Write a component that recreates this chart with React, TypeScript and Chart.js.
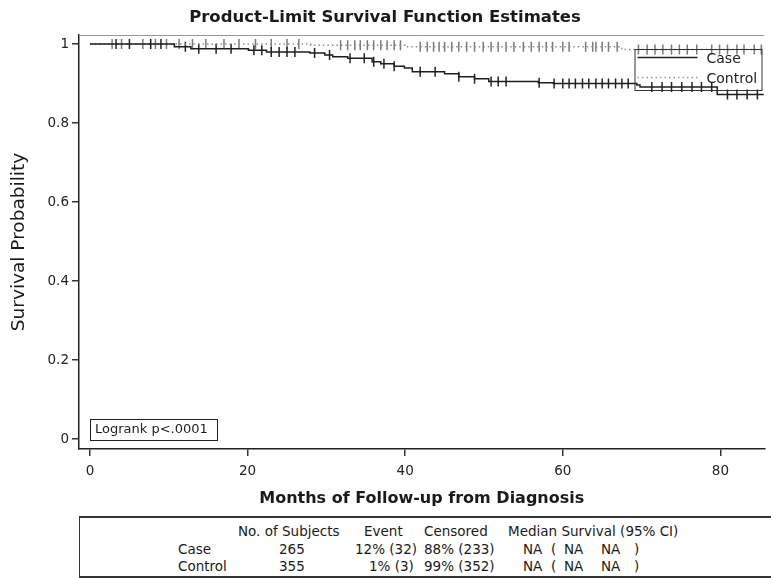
import React, { useEffect, useRef } from "react";
import { Chart, registerables } from "chart.js";

Chart.register(...registerables);

// ---- Data ----
const caseTimes = [0, 10.7, 12.8, 20.1, 22.4, 27.9, 29.8, 30.8, 32.7, 35.8, 36.9, 38.6, 39.9, 40.9, 45.0, 46.8, 48.8, 50.6, 56.9, 58.8, 69.4, 69.8, 79.6];
const caseSurv = [1, 0.993, 0.988, 0.984, 0.98, 0.977, 0.972, 0.968, 0.964, 0.955, 0.95, 0.944, 0.939, 0.93, 0.925, 0.917, 0.912, 0.905, 0.902, 0.9, 0.896, 0.891, 0.872];
const controlTimes = [0, 28.0, 40.0, 67.5];
const controlSurv = [1, 0.997, 0.993, 0.986];
const followUpEnd = 85.5;

const caseCensored = [3.3, 5, 7.7, 9, 12.1, 13.8, 16, 17.9, 20.8, 21.8, 23, 24, 25, 26, 28.5, 30.4, 33, 34.8, 36, 37.3, 38.6, 41.9, 43.8, 46.8, 48.8, 50.9, 51.8, 52.8, 57, 58.9, 60, 60.8, 61.6, 62.5, 63.3, 64.2, 65, 65.8, 66.7, 67.5, 68.3, 71.3, 72.6, 73.8, 75.1, 76.4, 77.6, 78.9, 80.9, 82.1, 83.4, 84.7];
const controlCensored = [2.8, 4, 6.7, 8.3, 9.7, 11.3, 13, 14.7, 17, 18.9, 21, 23, 25, 26.5, 31.8, 32.7, 33.6, 34.3, 35.2, 36, 36.9, 37.7, 38.6, 39.4, 41.9, 42.8, 43.6, 44.3, 45, 45.9, 46.8, 47.8, 48.8, 49.9, 50.9, 51.8, 52.8, 53.8, 55, 56, 57, 57.9, 58.7, 60, 60.8, 62.9, 63.8, 64.2, 65, 65.8, 66.9, 69.6, 70.7, 71.7, 72.7, 73.8, 74.8, 75.8, 77, 78.9, 79.9, 80.9, 82.1, 83, 84.3, 85.2];

const xTicks = [0, 20, 40, 60, 80];
const yTicks = [0, 0.2, 0.4, 0.6, 0.8, 1];

const chartTitle = "Product-Limit Survival Function Estimates";
const xTitle = "Months of Follow-up from Diagnosis";
const yTitle = "Survival Probability";
const seriesNames = ["Case", "Control"];
const logrankText = "Logrank p<.0001";

const tableHeader = ["No. of Subjects", "Event", "Censored", "Median Survival (95% CI)"];
const tableRowNames = ["Case", "Control"];
const tableSubjects = ["265", "355"];
const tableEvents = ["12% (32)", "1% (3)"];
const tableCensored = ["88% (233)", "99% (352)"];
const tableMedian = [["NA", "(", "NA", "NA", ")"], ["NA", "(", "NA", "NA", ")"]];

// ---- helpers ----
function survAt(times: number[], surv: number[], t: number) {
  let v = surv[0];
  for (let i = 0; i < times.length; i++) if (times[i] <= t) v = surv[i];
  return v;
}
function stepPoints(times: number[], surv: number[]) {
  const pts = times.map((t, i) => ({ x: t, y: surv[i] }));
  pts.push({ x: followUpEnd, y: surv[surv.length - 1] });
  return pts;
}
function censorPoints(cens: number[], times: number[], surv: number[]) {
  return cens.map((t) => ({ x: t, y: survAt(times, surv, t) }));
}

const FONT = "'DejaVu Sans', 'Liberation Sans', sans-serif";

const overlayPlugin = {
  id: "overlay",
  afterDraw(chart: any) {
    const { ctx, chartArea } = chart;
    ctx.save();
    // top frame line
    ctx.strokeStyle = "#9a9a9a";
    ctx.lineWidth = 1;
    ctx.beginPath();
    ctx.moveTo(chartArea.left, chartArea.top + 0.5);
    ctx.lineTo(chartArea.right, chartArea.top + 0.5);
    ctx.stroke();

    // legend box (inset top-right)
    const lx = chartArea.right - 130;
    const ly = chartArea.top + 14;
    ctx.strokeStyle = "#333";
    ctx.lineWidth = 1;
    ctx.strokeRect(lx + 0.5, ly + 0.5, 127, 41);
    ctx.strokeStyle = "#222";
    ctx.lineWidth = 1.5;
    ctx.setLineDash([]);
    ctx.beginPath();
    ctx.moveTo(lx + 3, ly + 8.5);
    ctx.lineTo(lx + 63, ly + 8.5);
    ctx.stroke();
    ctx.strokeStyle = "#999";
    ctx.setLineDash([1.5, 3]);
    ctx.beginPath();
    ctx.moveTo(lx + 3, ly + 28.5);
    ctx.lineTo(lx + 63, ly + 28.5);
    ctx.stroke();
    ctx.setLineDash([]);
    ctx.fillStyle = "#222";
    ctx.font = `14px ${FONT}`;
    ctx.textBaseline = "middle";
    ctx.textAlign = "left";
    ctx.fillText(seriesNames[0], lx + 72, ly + 10);
    ctx.fillText(seriesNames[1], lx + 72, ly + 30);

    // logrank box
    const bx = chartArea.left + 11;
    const by = chartArea.bottom - 30;
    ctx.strokeStyle = "#222";
    ctx.lineWidth = 1;
    ctx.strokeRect(bx + 0.5, by + 0.5, 127, 21);
    ctx.font = `13px ${FONT}`;
    ctx.fillText(logrankText, bx + 5, by + 11);
    ctx.restore();
  },
};

export default function App() {
  const ref = useRef<HTMLCanvasElement | null>(null);

  useEffect(() => {
    if (!ref.current) return;
    Chart.defaults.font.family = FONT;
    Chart.defaults.color = "#222";
    const chart = new Chart(ref.current, {
      type: "line",
      data: {
        datasets: [
          {
            label: seriesNames[0],
            data: stepPoints(caseTimes, caseSurv),
            stepped: true,
            borderColor: "#1e1e1e",
            borderWidth: 1.5,
            pointRadius: 0,
            fill: false,
          },
          {
            label: seriesNames[1],
            data: stepPoints(controlTimes, controlSurv),
            stepped: true,
            borderColor: "#8c8c8c",
            borderWidth: 1.5,
            borderDash: [1.5, 3],
            pointRadius: 0,
            fill: false,
          },
          {
            label: seriesNames[0] + " censored",
            data: censorPoints(caseCensored, caseTimes, caseSurv),
            showLine: false,
            pointStyle: "line",
            rotation: 90,
            pointRadius: 5,
            borderColor: "#222",
            borderWidth: 1.5,
          },
          {
            label: seriesNames[1] + " censored",
            data: censorPoints(controlCensored, controlTimes, controlSurv),
            showLine: false,
            pointStyle: "line",
            rotation: 90,
            pointRadius: 5,
            borderColor: "#7a7a7a",
            borderWidth: 1.5,
          },
        ] as any,
      },
      options: {
        animation: false,
        responsive: false,
        layout: { padding: { left: 0, right: 1, top: 0, bottom: 0 } },
        plugins: {
          legend: { display: false },
          tooltip: { enabled: false },
          title: {
            display: true,
            text: chartTitle,
            color: "#1a1a1a",
            font: { size: 16.5, weight: "bold", family: FONT },
            padding: { top: 7.5, bottom: 7.7 },
          },
        },
        scales: {
          x: {
            type: "linear",
            min: -1.4,
            max: 85.6,
            afterBuildTicks: (s: any) => {
              s.ticks = xTicks.map((v) => ({ value: v }));
            },
            afterFit: (s: any) => {
              s.height = 63;
            },
            ticks: {
              font: { size: 13.5 },
              color: "#222",
              padding: 7.6,
              maxRotation: 0,
              callback: (v: any) => String(v),
            },
            grid: { drawOnChartArea: false, tickLength: 7, color: "#333", lineWidth: 1.5 },
            border: { color: "#222", width: 1.5 },
            title: {
              display: true,
              text: xTitle,
              color: "#1a1a1a",
              font: { size: 16, weight: "bold" },
              padding: { top: 0, bottom: 3.5 },
            },
          },
          y: {
            type: "linear",
            min: -0.0253,
            max: 1.0228,
            afterBuildTicks: (s: any) => {
              s.ticks = yTicks.map((v) => ({ value: v }));
            },
            afterFit: (s: any) => {
              s.width = 79;
            },
            ticks: {
              font: { size: 13.5 },
              color: "#222",
              padding: 3,
              callback: (v: any) => String(v),
            },
            grid: { drawOnChartArea: false, tickLength: 7, color: "#333", lineWidth: 1.5 },
            border: { color: "#222", width: 1.5 },
            title: {
              display: true,
              text: yTitle,
              color: "#1a1a1a",
              font: { size: 18.5 },
              padding: { top: 8.5, bottom: 0 },
            },
          },
        },
      } as any,
      plugins: [overlayPlugin],
    });
    return () => chart.destroy();
  }, []);

  const tx = (x: number) => x - 79;
  const headerX = [237, 363, 423, 507];
  const rowNameX = 177;
  const subjX = 278;
  const eventX = [354, 368];
  const censX = 423;
  const medX = [522, 550, 563, 600, 633];
  const rowY = [548, 565];
  const headerY = 530;
  const top = 516;

  const span = (text: string, x: number, y: number, key: string) => (
    <span
      key={key}
      style={{
        position: "absolute",
        left: tx(x),
        top: y - top - 9,
        lineHeight: "16px",
        fontSize: 13.5,
        whiteSpace: "pre",
        color: "#1a1a1a",
      }}
    >
      {text}
    </span>
  );

  return (
    <div style={{ position: "absolute", left: 0, top: 0, width: 771, height: 578, background: "#fff", overflow: "hidden", fontFamily: FONT }}>
      <canvas ref={ref} width={771} height={512} style={{ display: "block", width: 771, height: 512 }} />
      <div
        style={{
          position: "absolute",
          left: 79,
          top: top,
          width: 700,
          height: 58,
          borderTop: "2px solid #333",
          borderBottom: "2px solid #333",
          borderLeft: "1px solid #333",
        }}
      >
        {tableHeader.map((h, i) => span(h, headerX[i], headerY, "h" + i))}
        {tableRowNames.map((n, r) => (
          <React.Fragment key={"r" + r}>
            {span(n, rowNameX, rowY[r], "n" + r)}
            {span(tableSubjects[r], subjX, rowY[r], "s" + r)}
            {span(tableEvents[r], eventX[r], rowY[r], "e" + r)}
            {span(tableCensored[r], censX, rowY[r], "c" + r)}
            {tableMedian[r].map((m, k) => span(m, medX[k], rowY[r], "m" + r + k))}
          </React.Fragment>
        ))}
      </div>
    </div>
  );
}
